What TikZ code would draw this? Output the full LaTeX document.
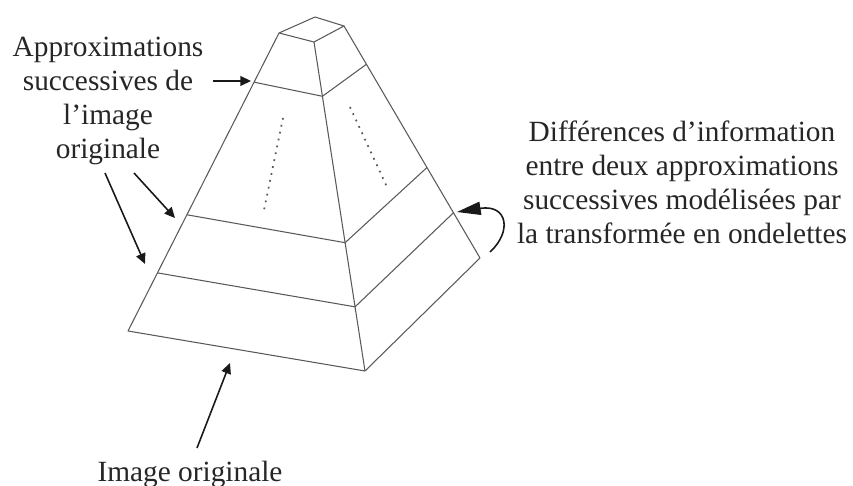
\documentclass[tikz,border=0pt]{standalone}
\usepackage{fontspec}
\setmainfont{Liberation Serif}
\usetikzlibrary{arrows.meta, calc}

\begin{document}
\begin{tikzpicture}[
  x=0.02cm, y=-0.02cm,
  edge/.style={draw=black!65, line width=0.6pt, line join=round},
  hidden/.style={draw=black!65, line width=1pt, dash pattern=on 1pt off 3pt},
  txt/.style={inner sep=0pt, align=center, text=black!85, font=\fontsize{16.7}{19.3}\selectfont},
  arrow/.style={draw=black!90, line width=0.9pt, -{Triangle[length=6pt, width=5.5pt]}},
  bigarrow/.style={draw=black!90, line width=0.9pt, -{Triangle[length=13.5pt, width=7.5pt]}}
]
\useasboundingbox (0,0) rectangle (853,486);

% Pyramid corners
\coordinate (tl) at (279,33);
\coordinate (tb) at (315,17);
\coordinate (tr) at (344,26);
\coordinate (tf) at (314,42);
\coordinate (bl) at (128,331);
\coordinate (bf) at (365,371);
\coordinate (br) at (480,258);

% Pyramid
\draw [edge] (tl) -- (tb) -- (tr) -- (tf) -- cycle;
\draw [edge] (tl) -- (bl) -- (bf) -- (br) -- (tr);
\draw [edge] (tf) -- (bf);
\draw [edge] ($(tl)!0.165!(bl)$) -- ($(tf)!0.165!(bf)$) -- ($(tr)!0.165!(br)$);
\draw [edge] ($(tl)!0.61!(bl)$) -- ($(tf)!0.61!(bf)$) -- ($(tr)!0.61!(br)$);
\draw [edge] ($(tl)!0.805!(bl)$) -- ($(tf)!0.805!(bf)$) -- ($(tr)!0.805!(br)$);

% Skipped levels
\coordinate (dl1) at (283,118);
\coordinate (dl2) at (264,210);
\coordinate (dr1) at (350,107);
\coordinate (dr2) at (387,187);
\draw [hidden] (dl1) -- (dl2);
\draw [hidden] (dr1) -- (dr2);

% Labels
\node (approx) [txt] at (108,101) {Approximations\\successives de\\l'image\\originale};
\node (diff) [txt] at (682,182) {Différences d'information\\entre deux approximations\\successives modélisées par\\la transformée en ondelettes};
\node (orig) [txt] at (190,474) {Image originale};

% Arrow ends
\coordinate (s1) at (213,81);
\coordinate (e1) at (251,81);
\coordinate (s2) at (134,173);
\coordinate (e2) at (175,218);
\coordinate (s3) at (105,173);
\coordinate (e3) at (145,264);
\coordinate (s4) at (197,448);
\coordinate (e4) at (230,363);
\coordinate (s5) at (490,252);
\coordinate (e5) at (457,212);

% Arrows
\draw [arrow] (s1) -- (e1);
\draw [arrow] (s2) -- (e2);
\draw [arrow] (s3) -- (e3);
\draw [arrow] (s4) -- (e4);
\draw [bigarrow] (s5) .. controls (512,232) and (508,204) .. (e5);
\end{tikzpicture}
\end{document}
